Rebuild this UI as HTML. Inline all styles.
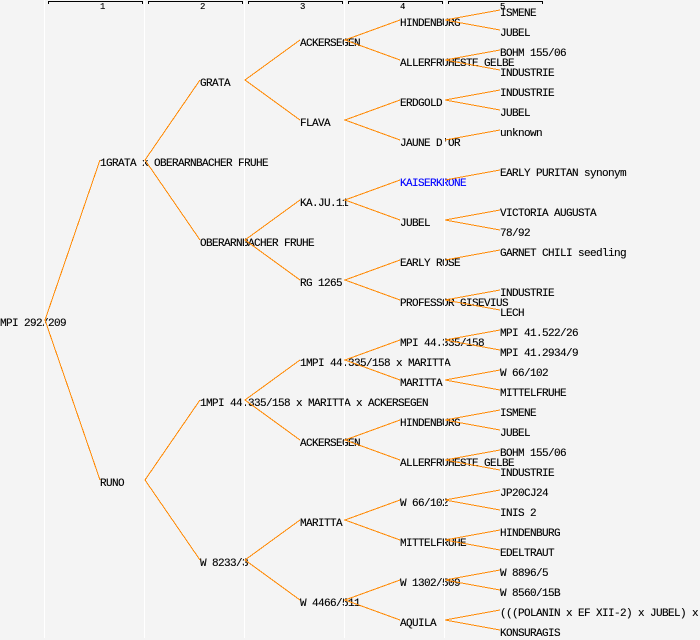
<!DOCTYPE html>
<html><head><meta charset="utf-8"><style>
html,body{margin:0;padding:0;background:#f4f4f4}
svg{display:block}
text{font-family:"Liberation Mono",monospace;font-size:11px;letter-spacing:-0.6px;fill:#000;stroke:#000;stroke-width:0.12px;white-space:pre}
text.n{font-size:9px;letter-spacing:0}
</style></head><body>
<svg width="700" height="640" viewBox="0 0 700 640" xmlns="http://www.w3.org/2000/svg">
<rect width="700" height="640" fill="#f4f4f4"/>
<g>
<text x="0" y="326">MPI 292/209</text>
<text x="100" y="166">1GRATA x OBERARNBACHER FRUHE</text>
<text x="100" y="486">RUNO</text>
<text x="200" y="86">GRATA</text>
<text x="200" y="246">OBERARNBACHER FRUHE</text>
<text x="200" y="406">1MPI 44.335/158 x MARITTA x ACKERSEGEN</text>
<text x="200" y="566">W 8233/3</text>
<text x="300" y="46">ACKERSEGEN</text>
<text x="300" y="126">FLAVA</text>
<text x="300" y="206">KA.JU.11</text>
<text x="300" y="286">RG 1265</text>
<text x="300" y="366">1MPI 44.335/158 x MARITTA</text>
<text x="300" y="446">ACKERSEGEN</text>
<text x="300" y="526">MARITTA</text>
<text x="300" y="606">W 4466/511</text>
<text x="400" y="26">HINDENBURG</text>
<text x="400" y="66">ALLERFRUHESTE GELBE</text>
<text x="400" y="106">ERDGOLD</text>
<text x="400" y="146">JAUNE D'OR</text>
<text x="400" y="186" style="fill:#0000ff;stroke:#0000ff">KAISERKRONE</text>
<text x="400" y="226">JUBEL</text>
<text x="400" y="266">EARLY ROSE</text>
<text x="400" y="306">PROFESSOR GISEVIUS</text>
<text x="400" y="346">MPI 44.335/158</text>
<text x="400" y="386">MARITTA</text>
<text x="400" y="426">HINDENBURG</text>
<text x="400" y="466">ALLERFRUHESTE GELBE</text>
<text x="400" y="506">W 66/102</text>
<text x="400" y="546">MITTELFRUHE</text>
<text x="400" y="586">W 1302/509</text>
<text x="400" y="626">AQUILA</text>
<text x="500" y="16">ISMENE</text>
<text x="500" y="36">JUBEL</text>
<text x="500" y="56">BOHM 155/06</text>
<text x="500" y="76">INDUSTRIE</text>
<text x="500" y="96">INDUSTRIE</text>
<text x="500" y="116">JUBEL</text>
<text x="500" y="136">unknown</text>
<text x="500" y="176">EARLY PURITAN synonym</text>
<text x="500" y="216">VICTORIA AUGUSTA</text>
<text x="500" y="236">78/92</text>
<text x="500" y="256">GARNET CHILI seedling</text>
<text x="500" y="296">INDUSTRIE</text>
<text x="500" y="316">LECH</text>
<text x="500" y="336">MPI 41.522/26</text>
<text x="500" y="356">MPI 41.2934/9</text>
<text x="500" y="376">W 66/102</text>
<text x="500" y="396">MITTELFRUHE</text>
<text x="500" y="416">ISMENE</text>
<text x="500" y="436">JUBEL</text>
<text x="500" y="456">BOHM 155/06</text>
<text x="500" y="476">INDUSTRIE</text>
<text x="500" y="496">JP20CJ24</text>
<text x="500" y="516">INIS 2</text>
<text x="500" y="536">HINDENBURG</text>
<text x="500" y="556">EDELTRAUT</text>
<text x="500" y="576">W 8896/5</text>
<text x="500" y="596">W 8560/15B</text>
<text x="500" y="616">(((POLANIN x EF XII-2) x JUBEL) x</text>
<text x="500" y="636">KONSURAGIS</text>
</g>
<g stroke="#fff" stroke-width="1" shape-rendering="crispEdges">
<path d="M44.5 0V638M144.5 0V638M244.5 0V638M344.5 0V638M444.5 0V638" fill="none"/>
</g>
<g stroke="#000" stroke-width="1" fill="none" shape-rendering="crispEdges">
<path d="M48.5 4V1.5H142.5V4"/>
<path d="M148.5 4V1.5H242.5V4"/>
<path d="M248.5 4V1.5H342.5V4"/>
<path d="M348.5 4V1.5H442.5V4"/>
<path d="M448.5 4V1.5H542.5V4"/>
</g>
<text class="n" x="100" y="9">1</text>
<text class="n" x="200" y="9">2</text>
<text class="n" x="300" y="9">3</text>
<text class="n" x="400" y="9">4</text>
<text class="n" x="500" y="9">5</text>
<g stroke="#ff8800" stroke-width="1" fill="none" shape-rendering="crispEdges">
<path d="M100 160L45 320L100 480"/>
<path d="M200 80L145 160L200 240"/>
<path d="M200 400L145 480L200 560"/>
<path d="M300 40L245 80L300 120"/>
<path d="M300 200L245 240L300 280"/>
<path d="M300 360L245 400L300 440"/>
<path d="M300 520L245 560L300 600"/>
<path d="M400 20L345 40L400 60"/>
<path d="M400 100L345 120L400 140"/>
<path d="M400 180L345 200L400 220"/>
<path d="M400 260L345 280L400 300"/>
<path d="M400 340L345 360L400 380"/>
<path d="M400 420L345 440L400 460"/>
<path d="M400 500L345 520L400 540"/>
<path d="M400 580L345 600L400 620"/>
<path d="M500 10L445 20L500 30"/>
<path d="M500 50L445 60L500 70"/>
<path d="M500 90L445 100L500 110"/>
<path d="M500 130L445 140"/>
<path d="M500 170L445 180"/>
<path d="M500 210L445 220L500 230"/>
<path d="M500 250L445 260"/>
<path d="M500 290L445 300L500 310"/>
<path d="M500 330L445 340L500 350"/>
<path d="M500 370L445 380L500 390"/>
<path d="M500 410L445 420L500 430"/>
<path d="M500 450L445 460L500 470"/>
<path d="M500 490L445 500L500 510"/>
<path d="M500 530L445 540L500 550"/>
<path d="M500 570L445 580L500 590"/>
<path d="M500 610L445 620L500 630"/>
</g>
</svg>
</body></html>
